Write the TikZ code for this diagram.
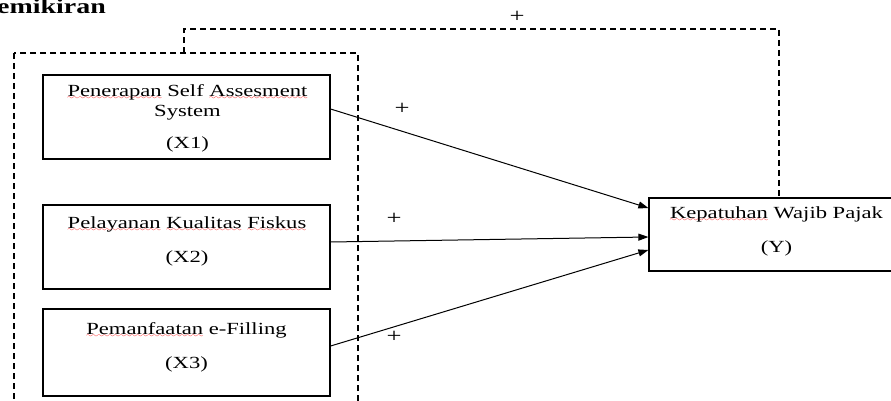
\documentclass[tikz,border=0pt]{standalone}
\usepackage{fontspec}
\usetikzlibrary{positioning}
\usetikzlibrary{arrows.meta}
\setmainfont[FakeStretch=1.33]{Liberation Serif}
\font\wavefont=lasy7
\newcommand\spellerr[1]{\setbox0\hbox{#1}\rlap{\lower3pt\hbox to\wd0{\color{red}\wavefont\xleaders\hbox{\char58}\hfil}}\box0\relax}

\begin{document}
\begin{tikzpicture}[x=1pt,y=-1pt,
  box/.style={draw,line width=1.2pt,minimum width=287pt,minimum height=84pt,inner sep=0pt},
  boxtext/.style={align=center,anchor=north,inner sep=0pt,font=\fontsize{17}{20}\selectfont},
  dashline/.style={line width=1.2pt,dash pattern=on 6pt off 4pt},
  arr/.style={line width=1pt,-{Triangle[length=10pt,width=7pt]}},
  sign/.style={inner sep=0pt,font=\fontsize{20}{20}\selectfont}]
 \useasboundingbox (0,0) rectangle (891,401);
 \clip (0,0) rectangle (891,401);
 \node[anchor=base west,inner sep=0pt,font=\fontsize{21}{21}\selectfont\bfseries] (title) at (-3,14) {emikiran};
 \draw[dashline] (14,53) rectangle (358,420);
 \node[box] (x1) at (186.5,117) {};
 \node[box] (x2) at (186.5,247) {};
 \node[box,minimum height=87pt] (x3) at (186.5,352.5) {};
 \node[box,minimum width=260pt,minimum height=73pt] (y) at (779,234.5) {};
 \node[boxtext] (t1) at ([xshift=1pt,yshift=-9.9pt]x1.north) {\spellerr{Penerapan} Self \spellerr{Assesment}\\System\\[12pt](X1)};
 \node[boxtext] (t2) at ([xshift=0.5pt,yshift=-12.4pt]x2.north) {\spellerr{Pelayanan} \spellerr{Kualitas} \spellerr{Fiskus}\\[14pt](X2)};
 \node[boxtext] (t3) at ([yshift=-14.4pt]x3.north) {\spellerr{Pemanfaatan} e-Filling\\[14pt](X3)};
 \node[boxtext] (ty) at ([xshift=-2.5pt,yshift=-8.7pt]y.north) {\spellerr{Kepatuhan} Wajib Pajak\\[14pt](Y)};
 \draw[arr] ([yshift=8pt]x1.east) -- ([yshift=26.5pt]y.west);
 \draw[arr] ([yshift=5pt]x2.east) -- ([yshift=-2.5pt]y.west);
 \draw[arr] ([yshift=6.5pt]x3.east) -- ([yshift=-15.5pt]y.west);
 \node[sign] (p1) at (402,109) {+};
 \node[sign] (p2) at (394,219) {+};
 \node[sign] (p3) at (394,337) {+};
 \node[sign] (pfb) at (517,17) {+};
 \coordinate (fb) at (184,53);
 \draw[dashline] (fb) |- ([yshift=-12pt]pfb.center) -| (y.north);
\end{tikzpicture}
\end{document}
